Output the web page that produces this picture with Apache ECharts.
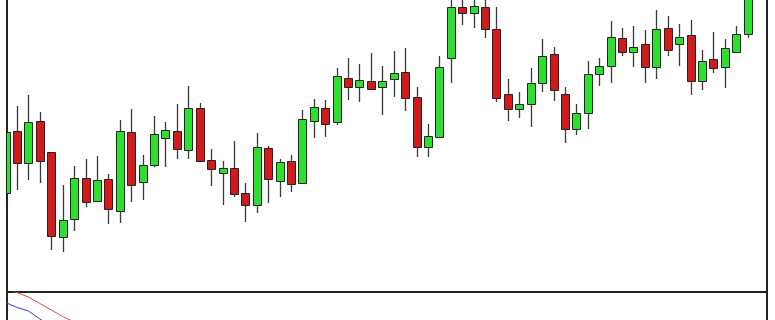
<!DOCTYPE html>
<html>
<head>
<meta charset="utf-8">
<script src="https://cdn.jsdelivr.net/npm/echarts@6/dist/echarts.min.js"></script>
<style>
html,body{margin:0;padding:0;background:#fff;}
#chart{width:775px;height:320px;}
</style>
</head>
<body>
<div id="chart"></div>
<script>
// Candle values (price units)
var openVals  = [107,169,137,179,148,63,81,122,99,121,89,168,118,135,162,169,150,192,140,127,132,107,95,152,119,139,117,179,192,178,222,213,219,213,221,228,203,153,163,242,293,287,293,271,206,191,196,217,246,206,171,187,226,234,262,248,256,233,272,256,265,219,241,233,248,266];
var closeVals = [168,137,178,139,64,80,122,98,120,91,169,115,135,166,170,151,192,139,131,132,106,95,153,121,138,116,181,193,176,224,213,220,211,219,227,202,153,164,233,293,287,294,271,202,191,196,217,244,210,171,187,226,234,263,248,253,233,271,250,263,219,239,232,252,266,310];
var lowVals   = [104,110,120,117,50,48,69,93,99,76,77,98,100,133,133,141,141,138,114,95,103,78,87,97,103,108,116,162,163,175,200,198,210,185,203,189,143,143,162,217,275,272,262,198,179,182,173,208,199,157,165,171,214,217,244,233,217,221,244,234,205,210,227,212,247,262];
var highVals  = [172,194,205,188,148,115,134,141,144,126,180,191,145,184,178,196,214,197,151,139,159,117,167,154,141,145,190,201,200,232,242,236,247,234,249,252,213,176,244,303,302,303,302,293,221,208,232,261,253,213,196,239,242,279,272,274,270,290,284,276,280,250,268,261,274,315];
// Lower indicator panel (0-100 oscillator), only the visible beginning
var redLine  = [104, 99.5, 95, 88.5, 82, 75.5, 70, 64];
var blueLine = [89.5, 84.5, 81, 73, 66, 60];

var candleData = openVals.map(function (o, i) {
  return [i, o, closeVals[i], lowVals[i], highVals[i]];
});
var redData = redLine.map(function (v, i) { return [i, v]; });
var blueData = blueLine.map(function (v, i) { return [i, v]; });

var UP = '#2ee02e', DOWN = '#d21a1a';

function renderCandle(params, api) {
  var i = api.value(0), o = api.value(1), c = api.value(2), lo = api.value(3), hi = api.value(4);
  var pO = api.coord([i, o]), pC = api.coord([i, c]);
  var pL = api.coord([i, lo]), pH = api.coord([i, hi]);
  var half = Math.round(api.size([1, 0])[0] * 0.35);
  var x = Math.round(pO[0]);
  var top = Math.round(Math.min(pO[1], pC[1]));
  var bot = Math.round(Math.max(pO[1], pC[1]));
  return {
    type: 'group',
    children: [
      {type: 'line', shape: {x1: x + 0.5, y1: pH[1], x2: x + 0.5, y2: pL[1]},
       style: {stroke: '#3a3a3a', lineWidth: 1.3}},
      {type: 'rect', shape: {x: x - half + 0.5, y: top + 0.5, width: half * 2, height: Math.max(bot - top, 1)},
       style: {fill: c >= o ? UP : DOWN, stroke: '#222', lineWidth: 1}}
    ]
  };
}

var chart = echarts.init(document.getElementById('chart'), null, {renderer: 'canvas'});
var hiddenAxis = {
  show: false, axisLine: {show: false}, axisTick: {show: false},
  axisLabel: {show: false}, splitLine: {show: false}
};
chart.setOption({
  animation: false,
  backgroundColor: '#ffffff',
  grid: [
    {left: 7, right: 8, top: -2, bottom: 28, outerBoundsMode: 'none', containLabel: false,
     show: true, borderColor: '#222', borderWidth: 2, backgroundColor: 'transparent'},
    {left: 7, right: 8, top: 292, height: 100, outerBoundsMode: 'none', containLabel: false,
     show: true, borderColor: '#222', borderWidth: 2, backgroundColor: 'transparent'}
  ],
  xAxis: [
    Object.assign({type: 'value', gridIndex: 0, min: 0.12, max: 66.7}, hiddenAxis),
    Object.assign({type: 'value', gridIndex: 1, min: 0.12, max: 66.7}, hiddenAxis)
  ],
  yAxis: [
    Object.assign({type: 'value', gridIndex: 0, min: 8, max: 302}, hiddenAxis),
    Object.assign({type: 'value', gridIndex: 1, min: 0, max: 100}, hiddenAxis)
  ],
  series: [
    {
      type: 'custom',
      xAxisIndex: 0, yAxisIndex: 0,
      dimensions: ['idx', 'open', 'close', 'low', 'high'],
      data: candleData,
      encode: {x: 0, y: [1, 2, 3, 4]},
      clip: true,
      renderItem: renderCandle
    },
    {
      type: 'line', xAxisIndex: 1, yAxisIndex: 1,
      data: redData, symbol: 'none', clip: true,
      lineStyle: {color: '#e04848', width: 1}
    },
    {
      type: 'line', xAxisIndex: 1, yAxisIndex: 1,
      data: blueData, symbol: 'none', clip: true,
      lineStyle: {color: '#3040d0', width: 1}
    }
  ]
});
</script>
</body>
</html>
